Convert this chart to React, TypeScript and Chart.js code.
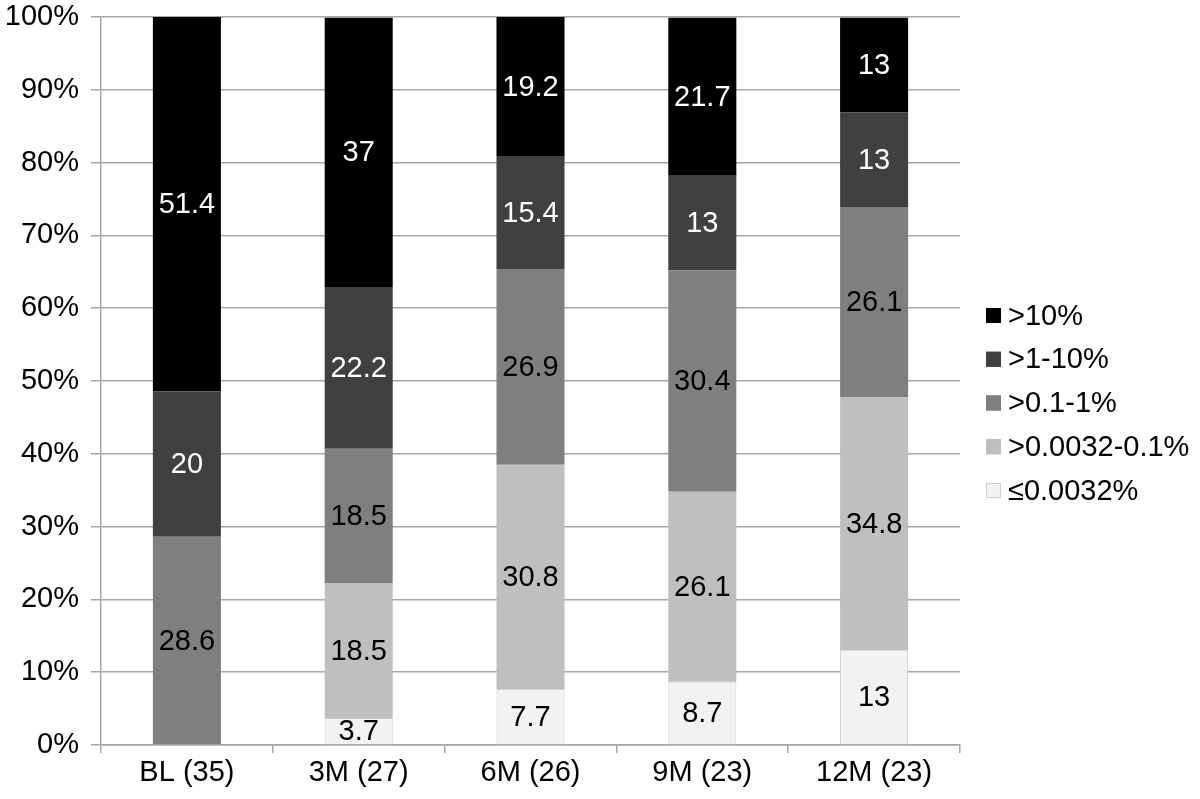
import React, { useEffect, useRef } from "react";
import { Chart, registerables } from "chart.js";

Chart.register(...registerables);

const categories = ["BL (35)", "3M (27)", "6M (26)", "9M (23)", "12M (23)"];
const seriesLe00032 = [0, 3.7, 7.7, 8.7, 13];
const series00032to01 = [0, 18.5, 30.8, 26.1, 34.8];
const series01to1 = [28.6, 18.5, 26.9, 30.4, 26.1];
const series1to10 = [20, 22.2, 15.4, 13, 13];
const seriesGt10 = [51.4, 37, 19.2, 21.7, 13];

const seriesNames = ["≤0.0032%", ">0.0032-0.1%", ">0.1-1%", ">1-10%", ">10%"];
const seriesValues = [seriesLe00032, series00032to01, series01to1, series1to10, seriesGt10];
const seriesColors = ["#f2f2f2", "#bfbfbf", "#7f7f7f", "#404040", "#000000"];
const seriesBorders = ["#cfcfcf", "#bfbfbf", "#7f7f7f", "#404040", "#000000"];
const labelColors = ["#000000", "#000000", "#000000", "#ffffff", "#ffffff"];

const yTicks = [0, 10, 20, 30, 40, 50, 60, 70, 80, 90, 100];

const FONT = '"Liberation Sans", Arial, Helvetica, sans-serif';
const FS = 29;

const dataLabelPlugin = {
  id: "dataLabels",
  afterDatasetsDraw(chart: any) {
    const ctx = chart.ctx;
    ctx.save();
    ctx.font = `${FS}px ${FONT}`;
    ctx.textAlign = "center";
    ctx.textBaseline = "middle";
    chart.data.datasets.forEach((ds: any, di: number) => {
      const meta = chart.getDatasetMeta(di);
      meta.data.forEach((el: any, i: number) => {
        const v = ds.data[i];
        if (!v) return;
        ctx.fillStyle = labelColors[di];
        ctx.fillText(String(v), el.x, (el.y + el.base) / 2 + 1);
      });
    });
    ctx.restore();
  },
};

const legendPlugin = {
  id: "customLegend",
  afterDraw(chart: any) {
    const ctx = chart.ctx;
    ctx.save();
    ctx.font = `${FS}px ${FONT}`;
    ctx.textAlign = "left";
    ctx.textBaseline = "middle";
    const x0 = 986;
    const yStart = 315.5;
    const step = 43.75;
    const size = 15;
    for (let k = 0; k < seriesNames.length; k++) {
      const di = seriesNames.length - 1 - k;
      const y = yStart + k * step;
      ctx.fillStyle = seriesColors[di];
      ctx.fillRect(x0, y - size / 2, size, size);
      ctx.strokeStyle = seriesBorders[di];
      ctx.lineWidth = 1;
      ctx.strokeRect(x0 + 0.5, y - size / 2 + 0.5, size - 1, size - 1);
      ctx.fillStyle = "#000000";
      ctx.fillText(seriesNames[di], 1008, y + 1);
    }
    ctx.restore();
  },
};

export default function App() {
  const ref = useRef<HTMLCanvasElement | null>(null);

  useEffect(() => {
    if (!ref.current) return;
    const chart = new Chart(ref.current, {
      type: "bar",
      data: {
        labels: categories,
        datasets: seriesValues.map((vals, i) => ({
          label: seriesNames[i],
          data: vals,
          backgroundColor: seriesColors[i],
          borderColor: seriesBorders[i],
          borderWidth: i === 0 ? 1 : 0,
          barPercentage: 0.396,
          categoryPercentage: 1,
        })),
      },
      options: {
        animation: false,
        responsive: false,
        maintainAspectRatio: false,
        layout: { padding: { top: 17, right: 240, left: 0, bottom: 0 } },
        plugins: {
          legend: { display: false },
          tooltip: { enabled: false },
          title: { display: false },
        },
        scales: {
          x: {
            stacked: true,
            offset: true,
            grid: {
              offset: true,
              drawOnChartArea: false,
              drawTicks: true,
              tickLength: 8,
              color: "#a6a6a6",
              lineWidth: 1.5,
            },
            border: { display: true, color: "#a6a6a6", width: 1.5 },
            ticks: {
              color: "#000000",
              font: { family: FONT, size: FS },
              padding: 3,
              maxRotation: 0,
            },
            afterFit(scale: any) {
              scale.height = 54;
              scale.paddingLeft = 0;
              scale.paddingRight = 0;
            },
          },
          y: {
            stacked: true,
            min: 0,
            max: 100,
            afterBuildTicks(scale: any) {
              scale.ticks = yTicks.map((v) => ({ value: v }));
            },
            grid: {
              drawTicks: true,
              tickLength: 10,
              color: "#a6a6a6",
              lineWidth: 1.5,
            },
            border: { display: true, color: "#a6a6a6", width: 1.5 },
            ticks: {
              color: "#000000",
              font: { family: FONT, size: FS },
              padding: 12,
              callback: (v: any) => `${v}%`,
            },
            afterFit(scale: any) {
              scale.width = 101;
              scale.paddingTop = 0;
              scale.paddingBottom = 0;
            },
          },
        },
      },
      plugins: [dataLabelPlugin, legendPlugin],
    });
    return () => chart.destroy();
  }, []);

  return (
    <div style={{ position: "fixed", left: 0, top: 0, width: 1200, height: 799, background: "#ffffff" }}>
      <canvas ref={ref} width={1200} height={799} />
    </div>
  );
}
